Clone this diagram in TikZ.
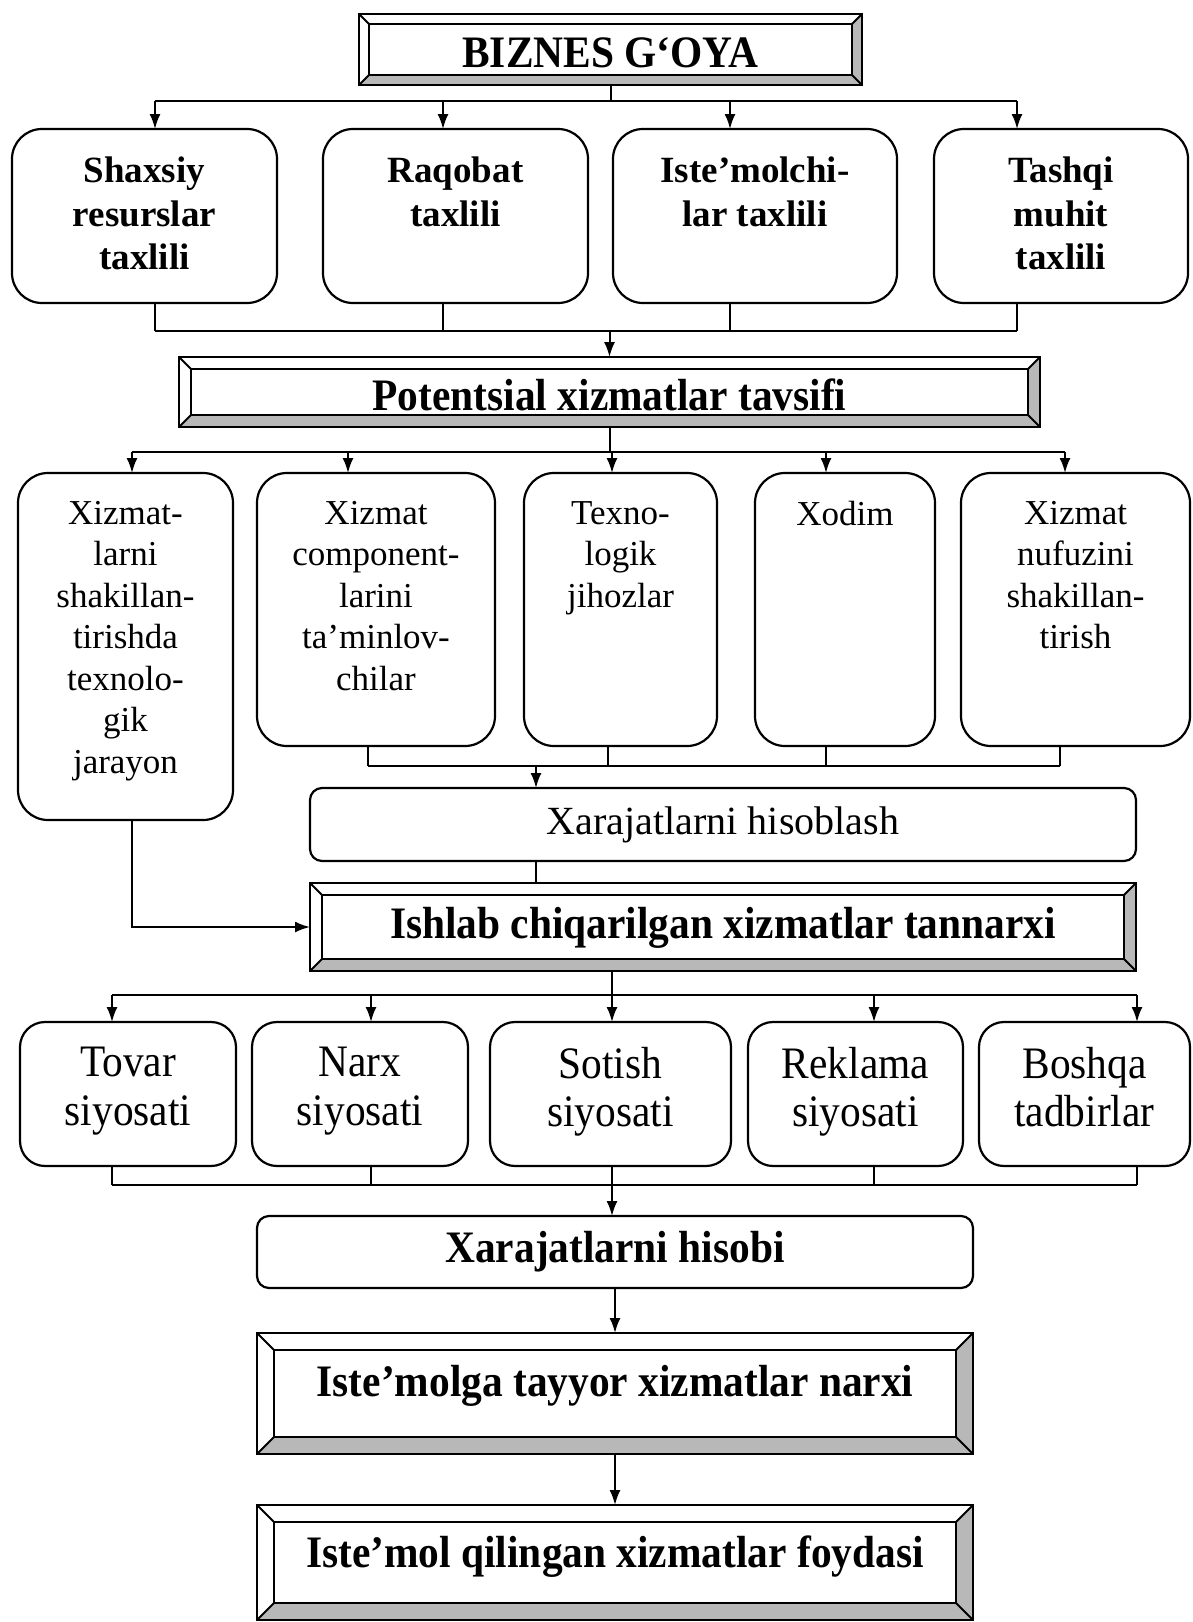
\documentclass[tikz,border=0pt]{standalone}
\usepackage{fontspec}
\setmainfont{Liberation Serif}
\newfontfamily\condserif[FakeStretch=0.92]{Liberation Serif}
\newfontfamily\narrowserif[FakeStretch=0.92]{Liberation Serif}
\usetikzlibrary{arrows.meta}
\newcommand\bevelframe[2]{%
  \fill[bevfill] (#1.south west) -- (#1.south east) -- (#1.north east)
    -- ([xshift=-#2pt,yshift=-#2pt]#1.north east)
    -- ([xshift=-#2pt,yshift=#2pt]#1.south east)
    -- ([xshift=#2pt,yshift=#2pt]#1.south west) -- cycle;
  \draw[frm] (#1.south west) rectangle (#1.north east);
  \draw[frm] ([xshift=#2pt,yshift=#2pt]#1.south west) rectangle ([xshift=-#2pt,yshift=-#2pt]#1.north east);
  \draw[frm] (#1.south west) -- ([xshift=#2pt,yshift=#2pt]#1.south west)
             (#1.south east) -- ([xshift=-#2pt,yshift=#2pt]#1.south east)
             (#1.north east) -- ([xshift=-#2pt,yshift=-#2pt]#1.north east)
             (#1.north west) -- ([xshift=#2pt,yshift=-#2pt]#1.north west);
}
\tikzset{
  bevfill/.style={fill=black!28},
  frm/.style={line width=2pt, line join=miter},
  fbox/.style={inner sep=0pt, outer sep=0pt, font=\condserif\bfseries\fontsize{45}{50}\selectfont},
  rbox/.style={draw, line width=2.2pt, inner sep=0pt, outer sep=0pt, rounded corners=30pt},
  tone/.style={align=center, inner sep=0pt, font=\bfseries\fontsize{37}{43.5}\selectfont},
  ttwo/.style={align=center, inner sep=0pt, font=\fontsize{35}{41.5}\selectfont},
  tthree/.style={align=center, inner sep=0pt, font=\narrowserif\fontsize{45}{48.5}\selectfont},
  ln/.style={line width=2pt},
  arr/.style={ln, -{Latex[length=15pt,width=11pt]}},
}
\begin{document}
\begin{tikzpicture}[x=1pt,y=-1pt]
\useasboundingbox (0,0) rectangle (1192,1622);
\fill[white] (0,0) rectangle (1192,1622);

% ---------- title ----------
\node[fbox, minimum width=503pt, minimum height=71pt] (top) at (610.5,49.5) {};
\bevelframe{top}{10}
\node[fbox] (topt) at ([yshift=-3pt]top.center) {BIZNES G‘OYA};

% ---------- row 1 ----------
\node[rbox, minimum width=265pt, minimum height=174pt] (A1) at (144.5,216) {};
\node[rbox, minimum width=265pt, minimum height=174pt] (A2) at (455.5,216) {};
\node[rbox, minimum width=284pt, minimum height=174pt] (A3) at (755,216) {};
\node[rbox, minimum width=254pt, minimum height=174pt] (A4) at (1061,216) {};
\node[tone, anchor=north] (A1t) at ([yshift=-28pt]A1.north) {Shaxsiy\\resurslar\\taxlili};
\node[tone, anchor=north] (A2t) at ([yshift=-28pt]A2.north) {Raqobat\\taxlili};
\node[tone, anchor=north] (A3t) at ([yshift=-28pt]A3.north) {Iste’molchi-\\lar taxlili};
\node[tone, anchor=north] (A4t) at ([yshift=-28pt]A4.north) {Tashqi\\muhit\\taxlili};

% ---------- potentsial ----------
\node[fbox, minimum width=861pt, minimum height=70pt] (Pot) at (609.5,392) {};
\bevelframe{Pot}{12}
\node[fbox] (Pott) at ([yshift=-3pt]Pot.center) {Potentsial xizmatlar tavsifi};

% ---------- row 2 ----------
\node[rbox, minimum width=215pt, minimum height=347pt] (B1) at (125.5,646.5) {};
\node[rbox, minimum width=238pt, minimum height=273pt] (B2) at (376,609.5) {};
\node[rbox, minimum width=193pt, minimum height=273pt] (B3) at (620.5,609.5) {};
\node[rbox, minimum width=180pt, minimum height=273pt] (B4) at (845,609.5) {};
\node[rbox, minimum width=229pt, minimum height=273pt] (B5) at (1075.5,609.5) {};
\node[ttwo, anchor=north] (B1t) at ([yshift=-28pt]B1.north) {Xizmat-\\larni\\shakillan-\\tirishda\\texnolo-\\gik\\jarayon};
\node[ttwo, anchor=north] (B2t) at ([yshift=-28pt]B2.north) {Xizmat\\component-\\larini\\ta’minlov-\\chilar};
\node[ttwo, anchor=north] (B3t) at ([yshift=-28pt]B3.north) {Texno-\\logik\\jihozlar};
\node[ttwo, anchor=north] (B4t) at ([yshift=-28pt]B4.north) {Xodim};
\node[ttwo, anchor=north] (B5t) at ([yshift=-28pt]B5.north) {Xizmat\\nufuzini\\shakillan-\\tirish};

% ---------- hisoblash ----------
\node[rbox, rounded corners=12pt, minimum width=826pt, minimum height=73pt, font=\fontsize{40}{46}\selectfont] (His) at (723,824.5) {Xarajatlarni hisoblash};

% ---------- tannarxi ----------
\node[fbox, minimum width=826pt, minimum height=88pt] (Ish) at (723,927) {};
\bevelframe{Ish}{12}
\node[fbox] (Isht) at ([yshift=-1pt]Ish.center) {Ishlab chiqarilgan xizmatlar tannarxi};

% ---------- row 3 ----------
\node[rbox, rounded corners=25pt, minimum width=216pt, minimum height=144pt] (C1) at (128,1094) {};
\node[rbox, rounded corners=25pt, minimum width=216pt, minimum height=144pt] (C2) at (360,1094) {};
\node[rbox, rounded corners=25pt, minimum width=241pt, minimum height=144pt] (C3) at (610.5,1094) {};
\node[rbox, rounded corners=25pt, minimum width=215pt, minimum height=144pt] (C4) at (855.5,1094) {};
\node[rbox, rounded corners=25pt, minimum width=211pt, minimum height=144pt] (C5) at (1084.5,1094) {};
\node[tthree, anchor=north] (C1t) at ([yshift=-25pt]C1.north) {Tovar\\siyosati};
\node[tthree, anchor=north] (C2t) at ([yshift=-25pt]C2.north) {Narx\\siyosati};
\node[tthree, anchor=north] (C3t) at ([yshift=-25pt]C3.north) {Sotish\\siyosati};
\node[tthree, anchor=north] (C4t) at ([yshift=-25pt]C4.north) {Reklama\\siyosati};
\node[tthree, anchor=north] (C5t) at ([yshift=-25pt]C5.north) {Boshqa\\tadbirlar};

% ---------- hisobi ----------
\node[rbox, rounded corners=12pt, minimum width=716pt, minimum height=72pt, font=\condserif\bfseries\fontsize{45}{50}\selectfont] (Hb) at (615,1252) {Xarajatlarni hisobi};

% ---------- bottom framed boxes ----------
\node[fbox, minimum width=716pt, minimum height=121pt] (Ist) at (615,1393.5) {};
\bevelframe{Ist}{17}
\node[fbox, anchor=base] (Istt) at ([yshift=-63pt]Ist.north) {Iste’molga tayyor xizmatlar narxi};
\node[fbox, minimum width=716pt, minimum height=115pt] (Foy) at (615,1562.5) {};
\bevelframe{Foy}{17}
\node[fbox, anchor=base] (Foyt) at ([yshift=-62pt]Foy.north) {Iste’mol qilingan xizmatlar foydasi};

% ---------- bus levels ----------
\coordinate (b1) at (0,101);
\coordinate (b2) at (0,331);
\coordinate (b3) at (0,452);
\coordinate (b4) at (0,766);
\coordinate (b5) at (0,995);
\coordinate (b6) at (0,1185);

% title -> row 1
\coordinate (a1t) at ([xshift=10.5pt]A1.north);
\coordinate (a2t) at ([xshift=-12.5pt]A2.north);
\coordinate (a3t) at ([xshift=-25pt]A3.north);
\coordinate (a4t) at ([xshift=-44pt]A4.north);
\draw[ln] (top.south) -- (top.south |- b1);
\draw[ln] (a1t |- b1) -- (a4t |- b1);
\foreach \t in {a1t,a2t,a3t,a4t} \draw[arr] (\t |- b1) -- (\t);

% row 1 -> potentsial
\coordinate (a1b) at ([xshift=10.5pt]A1.south);
\coordinate (a2b) at ([xshift=-12.5pt]A2.south);
\coordinate (a3b) at ([xshift=-25pt]A3.south);
\coordinate (a4b) at ([xshift=-44pt]A4.south);
\foreach \t in {a1b,a2b,a3b,a4b} \draw[ln] (\t) -- (\t |- b2);
\draw[ln] (a1b |- b2) -- (a4b |- b2);
\draw[arr] (Pot.north |- b2) -- (Pot.north);

% potentsial -> row 2
\coordinate (p1t) at ([xshift=6.5pt]B1.north);
\coordinate (p2t) at ([xshift=-28pt]B2.north);
\coordinate (p3t) at ([xshift=-8.5pt]B3.north);
\coordinate (p4t) at ([xshift=-19pt]B4.north);
\coordinate (p5t) at ([xshift=-10.5pt]B5.north);
\draw[ln] (Pot.south) -- (Pot.south |- b3);
\draw[ln] (p1t |- b3) -- (p5t |- b3);
\foreach \t in {p1t,p2t,p3t,p4t,p5t} \draw[arr] (\t |- b3) -- (\t);

% row 2 -> hisoblash
\coordinate (q2b) at ([xshift=-8pt]B2.south);
\coordinate (q3b) at ([xshift=-12.5pt]B3.south);
\coordinate (q4b) at ([xshift=-19pt]B4.south);
\coordinate (q5b) at ([xshift=-15.5pt]B5.south);
\foreach \t in {q2b,q3b,q4b,q5b} \draw[ln] (\t) -- (\t |- b4);
\draw[ln] (q2b |- b4) -- (q5b |- b4);
\coordinate (hst) at ([xshift=-187pt]His.north);
\coordinate (hsb) at ([xshift=-187pt]His.south);
\draw[arr] (hst |- b4) -- (hst);
\draw[ln] (hsb) -- (hsb |- Ish.north);

% row 2 box 1 -> tannarxi
\coordinate (q1b) at ([xshift=6.5pt]B1.south);
\draw[arr] (q1b) |- (Ish.west);

% tannarxi -> row 3
\coordinate (isb) at ([xshift=-111pt]Ish.south);
\coordinate (c1t) at ([xshift=-16pt]C1.north);
\coordinate (c2t) at ([xshift=11pt]C2.north);
\coordinate (c3t) at ([xshift=1.5pt]C3.north);
\coordinate (c4t) at ([xshift=18.5pt]C4.north);
\coordinate (c5t) at ([xshift=52.5pt]C5.north);
\draw[ln] (isb) -- (isb |- b5);
\draw[ln] (c1t |- b5) -- (c5t |- b5);
\foreach \t in {c1t,c2t,c3t,c4t,c5t} \draw[arr] (\t |- b5) -- (\t);

% row 3 -> hisobi
\coordinate (c1b) at ([xshift=-16pt]C1.south);
\coordinate (c2b) at ([xshift=11pt]C2.south);
\coordinate (c3b) at ([xshift=1.5pt]C3.south);
\coordinate (c4b) at ([xshift=18.5pt]C4.south);
\coordinate (c5b) at ([xshift=52.5pt]C5.south);
\foreach \t in {c1b,c2b,c3b,c4b,c5b} \draw[ln] (\t) -- (\t |- b6);
\draw[ln] (c1b |- b6) -- (c5b |- b6);
\draw[arr] (c3b |- b6) -- (c3b |- Hb.north);

% hisobi -> narxi -> foydasi
\draw[arr] (Hb.south) -- (Ist.north);
\draw[arr] (Ist.south) -- (Foy.north);
\end{tikzpicture}
\end{document}
